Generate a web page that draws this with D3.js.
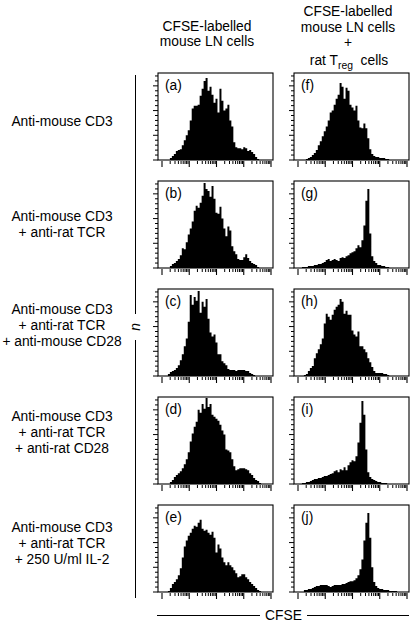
<!DOCTYPE html>
<html><head><meta charset="utf-8">
<script src="https://cdn.jsdelivr.net/npm/d3@7"></script>
<style>html,body{margin:0;padding:0;background:#fff;}svg{display:block;}text{font-family:"Liberation Sans",Arial,sans-serif;fill:#000;}</style>
</head><body>
<svg id="c" width="412" height="622"></svg>
<script>
// ---- data (histogram heights per log-spaced CFSE bin) ----
const rowLabels = [
  ["Anti-mouse CD3"],
  ["Anti-mouse CD3", "+ anti-rat TCR"],
  ["Anti-mouse CD3", "+ anti-rat TCR", "+ anti-mouse CD28"],
  ["Anti-mouse CD3", "+ anti-rat TCR", "+ anti-rat CD28"],
  ["Anti-mouse CD3", "+ anti-rat TCR", "+ 250 U/ml IL-2"]
];
const panelLetters = ["a","b","c","d","e","f","g","h","i","j"];
const xTickValues = [1, 10, 100, 1000, 10000];

const histA = [0,0,0,0,0,0,2,4,6,9,10,11,15,20,25,30,40,52,55,55,56,65,72,80,83,70,74,66,58,62,48,72,60,50,52,56,40,34,18,13,12,12,11,13,12,9,10,8,6,3,1,0,0,0,0,0,0,0];
const histB = [0,0,0,0,0,0,2,4,5,7,9,13,20,19,26,34,40,47,58,63,61,66,73,86,80,78,72,83,70,56,55,62,50,40,32,42,38,22,17,14,9,8,8,11,14,10,7,5,4,3,1,0,0,0,0,0,0,0];
const histC = [0,0,0,0,0,2,4,5,6,8,11,16,22,30,38,55,82,72,80,76,86,64,75,70,78,58,44,40,42,34,22,22,15,13,11,7,6,6,6,5,6,6,6,6,5,5,3,2,1,0,0,0,0,0,0,0,0,0];
const histD = [0,0,0,0,0,0,2,4,7,9,11,13,16,20,25,32,43,51,58,63,75,72,81,76,87,78,81,70,68,66,64,60,54,50,35,34,32,25,18,14,15,16,16,16,15,14,11,9,6,4,3,1,0,0,0,0,0,0];
const histE = [0,0,0,0,0,1,4,8,10,13,17,24,35,46,52,57,60,64,67,66,70,73,64,62,63,60,58,61,55,40,48,44,35,30,27,30,27,25,22,19,15,16,18,18,15,13,10,8,6,4,2,1,0,0,0,0,0,0];
const histF = [0,0,0,0,0,0,1,2,3,5,7,10,15,19,24,29,34,40,48,50,56,62,66,78,74,62,73,70,56,53,50,55,40,33,32,37,32,22,11,6,4,3,3,2,2,2,1,1,0,0,0,0,0,0,0,0,0,0];
const histG = [0,0,0,0,1,1,1,2,2,2,3,3,4,4,5,6,8,9,7,8,9,8,7,10,11,10,12,13,15,16,17,20,23,21,28,43,68,80,35,12,7,5,3,3,2,2,1,1,0,0,0,0,0,0,0,0,0,0];
const histH = [0,0,0,0,0,1,2,5,8,10,18,23,27,32,38,53,63,60,57,62,67,70,72,78,75,63,66,62,62,46,42,40,45,30,30,27,24,18,14,9,5,3,3,3,3,2,2,1,0,0,0,0,0,0,0,0,0,0];
const histI = [0,0,0,0,1,1,2,2,3,4,5,5,6,6,7,8,8,9,10,11,13,14,12,15,14,17,14,19,22,24,23,28,42,62,84,70,35,12,7,5,4,3,2,2,1,1,1,0,0,0,0,0,0,0,0,0,0,0];
const histJ = [0,0,0,0,0,2,2,3,3,4,5,6,6,7,7,7,7,6,5,6,7,7,7,7,8,8,9,10,11,11,12,14,17,23,33,52,70,80,55,25,10,6,4,3,3,2,2,2,1,1,1,1,0,0,0,0,0,0];
const panelData = [histA,histB,histC,histD,histE,histF,histG,histH,histI,histJ];

// ---- layout ----
const svg = d3.select("#c");
const colX = [158, 294];
const rowY = [73, 181, 289, 397, 505];
const PW = 115, PH = 87;
const FS = 13.8;

const x = d3.scaleLog().domain([1, 1e4]).range([4, PW - 2]);
const y = d3.scaleLinear().domain([0, 88]).range([PH, 0]);
const nb = histA.length;
const lo = Math.log10(x.invert(0)), hi = Math.log10(x.invert(PW));
const edges = d3.range(nb + 1).map(i => Math.pow(10, lo + (hi - lo) * i / nb));

const area = d3.area()
  .x(d => x(d[0])).y0(PH).y1(d => y(d[1]))
  .curve(d3.curveStepAfter);

panelData.forEach((vals, k) => {
  const col = Math.floor(k / 5), row = k % 5;
  const g = svg.append("g").attr("transform", `translate(${colX[col]},${rowY[row]})`);
  const pts = vals.map((v, i) => [edges[i], v]);
  pts.push([edges[nb], vals[nb - 1]]);
  g.append("path").attr("d", area(pts)).attr("fill", "#000");
  g.append("rect").attr("x", 0).attr("y", 0).attr("width", PW).attr("height", PH)
    .attr("fill", "none").attr("stroke", "#000").attr("stroke-width", 1.1);
  // x axis (log, below box)
  const xa = g.append("g").attr("transform", `translate(0,${PH + 1})`);
  const minor = [];
  for (let d = 1; d < 1e4; d *= 10) for (let m = 2; m <= 9; m++) minor.push(d * m);
  xa.selectAll("line.mn").data(minor).join("line")
    .attr("x1", d => x(d)).attr("x2", d => x(d)).attr("y1", 0).attr("y2", 3)
    .attr("stroke", "#000").attr("stroke-width", 1);
  xa.selectAll("line.mj").data(xTickValues).join("line")
    .attr("x1", d => x(d)).attr("x2", d => x(d)).attr("y1", 0).attr("y2", 6)
    .attr("stroke", "#000").attr("stroke-width", 1.1);
  // y axis ticks (left of box)
  const yt = d3.range(0, 89, 5);
  g.selectAll("line.yt").data(yt).join("line")
    .attr("x1", d => (d % 25 === 0 ? -5 : -3)).attr("x2", 0)
    .attr("y1", d => y(d)).attr("y2", d => y(d))
    .attr("stroke", "#000").attr("stroke-width", 1);
  g.append("text").attr("x", 7).attr("y", 17).attr("font-size", FS)
    .text(`(${panelLetters[k]})`);
});

// row labels
const labelCY = [121, 224, 325, 432, 543];
rowLabels.forEach((lines, r) => {
  const n = lines.length, lh = 16;
  const t = svg.append("text").attr("text-anchor", "middle").attr("font-size", FS);
  lines.forEach((s, i) => {
    t.append("tspan").attr("x", 62)
      .attr("y", labelCY[r] + (i - (n - 1) / 2) * lh + FS * 0.36).text(s);
  });
});

// column headers
const hl = svg.append("text").attr("text-anchor", "middle").attr("font-size", FS);
hl.append("tspan").attr("x", 207).attr("y", 30.5).text("CFSE-labelled");
hl.append("tspan").attr("x", 207).attr("y", 46).text("mouse LN cells");
const hr = svg.append("text").attr("text-anchor", "middle").attr("font-size", FS);
hr.append("tspan").attr("x", 348).attr("y", 16).text("CFSE-labelled");
hr.append("tspan").attr("x", 348).attr("y", 31.5).text("mouse LN cells");
hr.append("tspan").attr("x", 348).attr("y", 47).text("+");
const h4 = svg.append("text").attr("x", 349).attr("y", 64.5).attr("text-anchor", "middle").attr("font-size", FS);
h4.append("tspan").text("rat T");
h4.append("tspan").attr("font-size", FS * 0.75).attr("dy", 4).text("reg");
h4.append("tspan").attr("dy", -4).text("\u00a0 cells");

// y-axis label n with vertical line
svg.append("line").attr("x1", 135.5).attr("x2", 135.5).attr("y1", 75).attr("y2", 314).attr("stroke", "#000");
svg.append("line").attr("x1", 135.5).attr("x2", 135.5).attr("y1", 340).attr("y2", 598).attr("stroke", "#000");
svg.append("text").attr("transform", "translate(139.5,327) rotate(-90)")
  .attr("text-anchor", "middle").attr("font-size", FS).attr("font-style", "italic").text("n");

// x-axis label CFSE with line
svg.append("line").attr("x1", 157).attr("x2", 260).attr("y1", 615.5).attr("y2", 615.5).attr("stroke", "#000");
svg.append("line").attr("x1", 307).attr("x2", 409).attr("y1", 615.5).attr("y2", 615.5).attr("stroke", "#000");
svg.append("text").attr("x", 283.5).attr("y", 620).attr("text-anchor", "middle").attr("font-size", FS).text("CFSE");
</script>
</body></html>
